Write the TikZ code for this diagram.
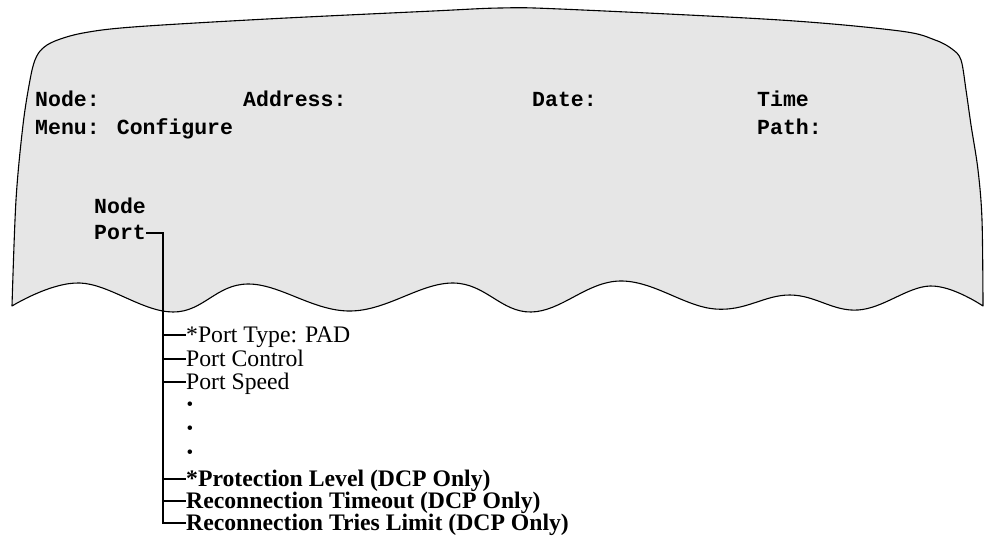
\documentclass[tikz,border=0pt]{standalone}
\usepackage{fontspec}
\setmainfont{Liberation Serif}
\newfontfamily\monob{Liberation Mono}
\definecolor{screen}{HTML}{E6E6E6}
\begin{document}
\begin{tikzpicture}[x=1pt,y=-1pt,
  mono/.style={font=\monob\bfseries\fontsize{21.5}{24}\selectfont, inner sep=0pt, anchor=base west, text height=12pt, text depth=0pt},
  item/.style={font=\fontsize{23.7}{26}\selectfont, inner sep=0pt, anchor=west, text height=15.6pt, text depth=0pt},
  bitem/.style={item, font=\bfseries\fontsize{23.7}{26}\selectfont},
  dotitem/.style={font=\fontsize{19}{22}\selectfont, inner sep=0pt, text height=12.6pt, text depth=0pt},
  screenshape/.style={draw=black, line width=1.1pt, fill=screen, line join=round},
  tree/.style={line width=1.8pt}]
\useasboundingbox (0,0) rectangle (984,539);

\filldraw[screenshape]
  plot[smooth, tension=0.55] coordinates {(12,306) (16,200) (23,125) (30,80) (35,60) (42,49) (55,41) (83,33) (133,27) (267,19) (433,11) (500,8) (560,9) (780,20) (900,31) (935,40) (952,49) (961,60) (966,90) (971,125) (978,170) (982,220) (983,306)}
  -- plot[smooth, tension=0.65] coordinates {(983,306) (930,286) (858,310) (790,295) (715,309) (620,281) (531,312) (453,283) (350,311) (248,284) (173,312) (80,283) (12,306)}
  -- cycle;

\node[mono] (hnode) at (35,106) {Node:};
\node[mono] (haddr) at (243,106) {Address:};
\node[mono] (hdate) at (532,106) {Date:};
\node[mono] (htime) at (757,106) {Time};
\node[mono] (hmenu) at (35,134) {Menu: Configure};
\node[mono] (hpath) at (757,134) {Path:};
\node[mono] (mnode) at (94,213) {Node};
\node[mono] (port) at (94,239) {Port};

\node[item] (ptype) at (186,335) {*Port Type: PAD};
\node[item] (pctrl) at (186,359) {Port Control};
\node[item] (pspeed) at (186,382) {Port Speed};
\node[dotitem] (d1) at (190,404) {•};
\node[dotitem] (d2) at (190,428) {•};
\node[dotitem] (d3) at (190,452) {•};
\node[bitem] (prot) at (186,479) {*Protection Level (DCP Only)};
\node[bitem] (rtime) at (186,501) {Reconnection Timeout (DCP Only)};
\node[bitem] (rtries) at (186,523) {Reconnection Tries Limit (DCP Only)};

\coordinate (trunktop) at ([xshift=17pt]port.east);
\draw[tree] (port.east) -- (trunktop) -- (trunktop |- rtries.west) -- (rtries.west);
\foreach \n in {ptype,pctrl,pspeed,prot,rtime}
  \draw[tree] (trunktop |- \n.west) -- (\n.west);
\end{tikzpicture}
\end{document}
